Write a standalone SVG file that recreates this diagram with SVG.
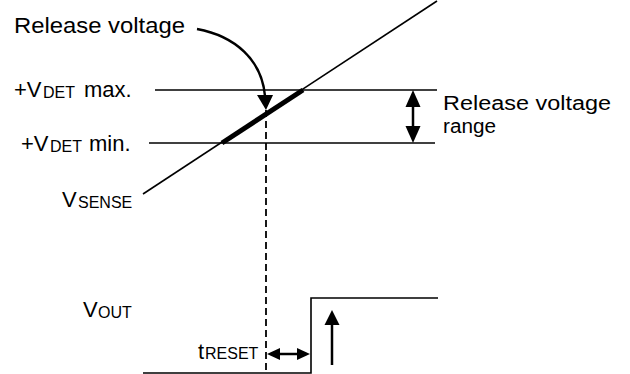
<svg xmlns="http://www.w3.org/2000/svg" width="630" height="374" viewBox="0 0 630 374">
<style>
text{font-family:"Liberation Sans",Arial,sans-serif;fill:#000}
.big{font-size:22px}
.rt{font-size:20px}
.sub{font-size:16px}
.ln{stroke:#000;stroke-width:1.6;fill:none}
.sh{stroke:#000;stroke-width:2.5;fill:none}
.hd{fill:#000;stroke:none}
</style>
<rect width="630" height="374" fill="#fff"/>
<g id="labels">
<text class="big" x="14" y="33" textLength="171" lengthAdjust="spacingAndGlyphs">Release voltage</text>
<text class="big" y="97"><tspan x="14">+V</tspan><tspan class="sub" x="43" y="98">DET</tspan><tspan x="84" y="97">max.</tspan></text>
<text class="big" y="151"><tspan x="21">+V</tspan><tspan class="sub" x="50" y="152">DET</tspan><tspan x="89" y="151">min.</tspan></text>
<text class="big" y="207"><tspan x="62">V</tspan><tspan class="sub" x="78" y="208">SENSE</tspan></text>
<text class="rt" x="443" y="110" textLength="168" lengthAdjust="spacingAndGlyphs">Release voltage</text>
<text class="rt" x="443" y="133" textLength="53" lengthAdjust="spacingAndGlyphs">range</text>
<text class="big" y="317"><tspan x="83">V</tspan><tspan class="sub" x="98" y="318">OUT</tspan></text>
<text class="big" y="359"><tspan x="198">t</tspan><tspan class="sub" x="205">RESET</tspan></text>
</g>
<g id="levels">
<line class="ln" x1="155" y1="90" x2="437" y2="90"/>
<line class="ln" x1="149" y1="143" x2="435" y2="143"/>
</g>
<g id="vsense">
<line class="ln" x1="143" y1="194" x2="437" y2="1"/>
<line x1="222" y1="143" x2="303" y2="90" stroke="#000" stroke-width="5"/>
</g>
<g id="vout">
<polyline class="ln" points="143,373 311,373 311,298 438,298"/>
</g>
<g id="connectors">
<line x1="266" y1="110" x2="266" y2="374" stroke="#000" stroke-width="1.8" stroke-dasharray="7,4"/>
<path class="sh" d="M197,29 C235,36 262,60 265,96"/>
<polygon class="hd" points="257,95 273,95 266,110"/>
<line class="sh" x1="413" y1="104" x2="413" y2="129"/>
<polygon class="hd" points="413,90 405.5,107 420.5,107"/>
<polygon class="hd" points="413,143 405.5,126 420.5,126"/>
<line class="sh" x1="278" y1="354" x2="299" y2="354"/>
<polygon class="hd" points="267,354 280,348 280,360"/>
<polygon class="hd" points="310,354 297,348 297,360"/>
<line class="sh" x1="332" y1="322" x2="332" y2="365"/>
<polygon class="hd" points="332,310 324.5,325 339.5,325"/>
</g>
</svg>
